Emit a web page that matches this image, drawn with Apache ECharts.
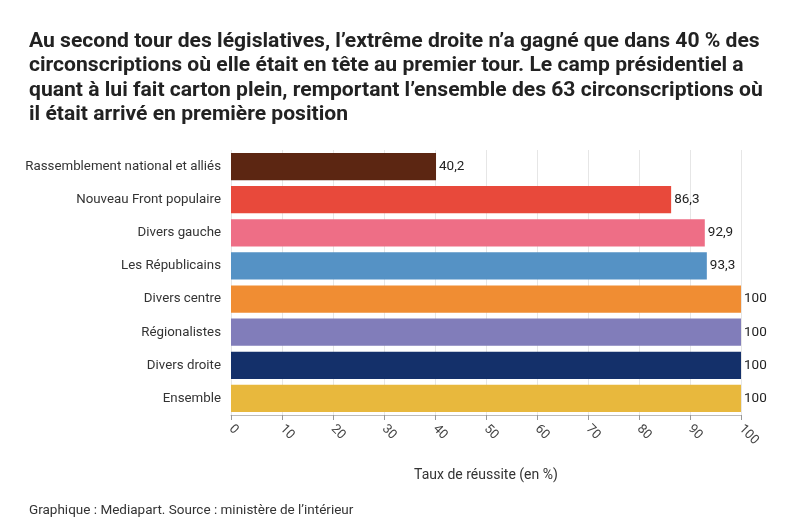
<!DOCTYPE html>
<html><head><meta charset="utf-8">
<script src="https://cdn.jsdelivr.net/npm/echarts@6/dist/echarts.min.js"></script>
<style>body{margin:0;background:#fff}#c{width:800px;height:526px}</style>
</head><body><div id="c"></div>
<script>
var categories = ["Rassemblement national et alliés","Nouveau Front populaire","Divers gauche","Les Républicains","Divers centre","Régionalistes","Divers droite","Ensemble"];
var values = [40.2, 86.3, 92.9, 93.3, 100, 100, 100, 100];
var colors = ["#5c2612","#e8493b","#ee6e86","#5592c5","#f08d33","#817dba","#14306a","#e8b83d"];

var chart = echarts.init(document.getElementById('c'));
chart.setOption({
	textStyle:{fontFamily:'Roboto'},
	title:[
		{text:"Au second tour des législatives, l’extrême droite n’a gagné que dans 40 % des\ncirconscriptions où elle était en tête au premier tour. Le camp présidentiel a\nquant à lui fait carton plein, remportant l’ensemble des 63 circonscriptions où\nil était arrivé en première position",
		 left:24, top:24, textStyle:{fontSize:21.1, fontWeight:'bold', color:'#222', lineHeight:24.5}},
		{text:"Graphique : Mediapart. Source : ministère de l’intérieur", left:24, top:499,
		 textStyle:{fontSize:13.5, fontWeight:'normal', color:'#333'}}
	],
	grid:{left:231, right:59, top:150, bottom:111},
	xAxis:{
		type:'value', min:0, max:100, interval:10,
		name:'Taux de réussite (en %)', nameLocation:'middle', nameGap:53,
		nameTextStyle:{fontSize:14, color:'#333'},
		axisLabel:{rotate:-45, fontSize:13, color:'#444', margin:12},
		axisTick:{show:true, length:5, lineStyle:{color:'#999'}},
		axisLine:{show:true, lineStyle:{color:'#bbb'}},
		splitLine:{show:true, lineStyle:{color:'#e6e6e6'}}
	},
	yAxis:{
		type:'category', inverse:true, data:categories,
		axisLabel:{fontSize:13.3, color:'#333', margin:10},
		axisTick:{show:false}, axisLine:{show:false}
	},
	series:[{
		type:'bar', barCategoryGap:'18%',
		data:values.map(function(v,i){return {value:v, itemStyle:{color:colors[i]}};}),
		label:{show:true, position:'right', distance:3, fontSize:13.5, color:'#222',
			formatter:function(p){return String(p.value).replace('.',',');}}
	}]
});
</script></body></html>
